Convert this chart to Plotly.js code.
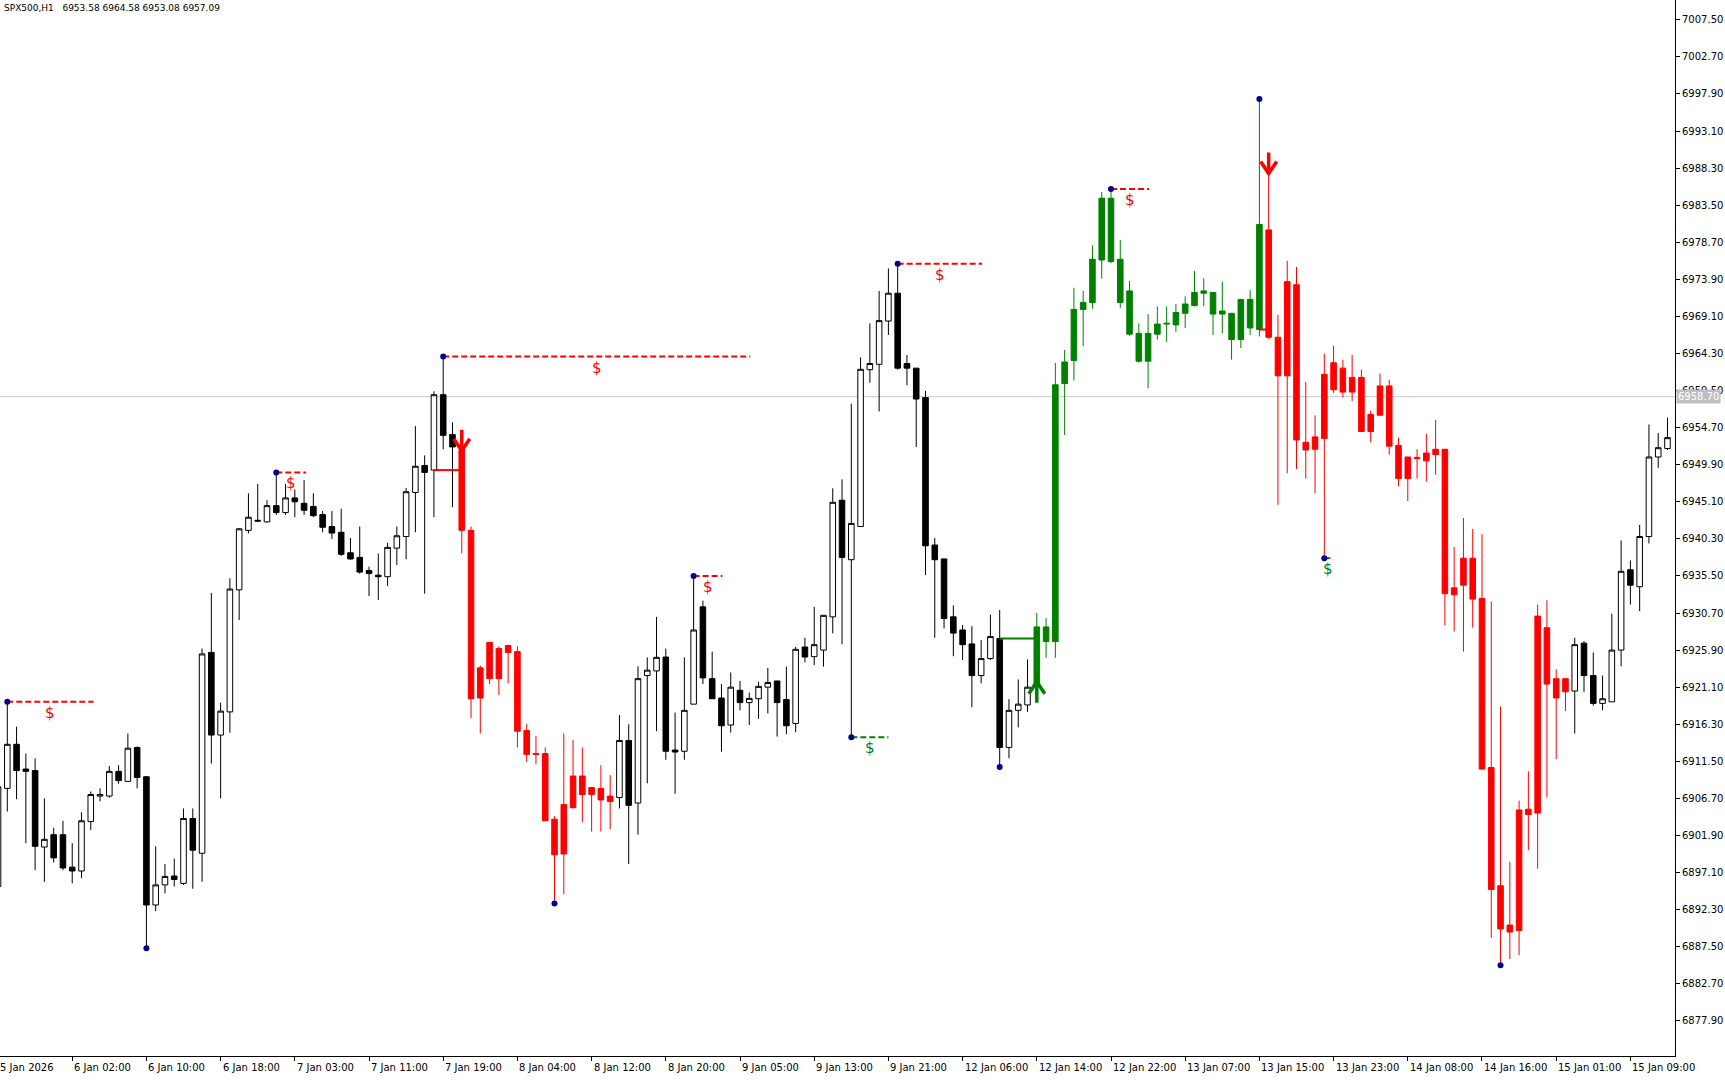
<!DOCTYPE html>
<html>
<head>
<meta charset="utf-8">
<script src="https://cdn.plot.ly/plotly-3.0.1.min.js"></script>
<style>
html,body{margin:0;padding:0;background:#ffffff;}
#chart{width:1725px;height:1080px;}
</style>
</head>
<body>
<div id="chart"></div>
<script>
// ---------------- DATA ----------------
const headerText = 'SPX500,H1\u00a0\u00a0\u00a06953.58 6964.58 6953.08 6957.09';
const firstBar = -1; // bar number of the first value below (partly off-screen)

const open = [
6895.3,
6908.0,6913.7,6910.5,6910.3,6900.4,6902.0,6902.0,6897.8,6897.3,6903.7,
6907.0,6907.0,6910.2,6908.9,6913.3,6909.5,6892.9,6895.5,6896.65,6895.7,
6904.1,6899.6,6925.6,6914.9,6917.9,6933.7,6941.4,6942.7,6942.5,6944.6,
6943.7,6945.6,6944.9,6944.5,6943.45,6941.9,6941.15,6938.5,6937.9,6936.2,
6935.6,6935.4,6939.1,6940.6,6946.3,6949.8,6949.2,6958.96,6953.8,6951.8,
6941.4,6919.7,6922.2,6926.1,6925.6,6925.7,6915.5,6912.5,6912.5,6904.0,
6899.5,6905.5,6909.6,6908.1,6908.0,6907.0,6906.8,6914.2,6906.1,6922.6,
6923.2,6925.0,6912.96,6912.8,6918.9,6931.5,6922.2,6919.7,6916.2,6920.7,
6919.1,6919.6,6921.1,6921.9,6919.5,6916.4,6926.3,6925.05,6925.9,6930.2,
6945.3,6937.6,6941.9,6962.2,6962.9,6968.5,6972.1,6963.0,6962.4,6958.6,
6939.5,6937.7,6930.2,6928.5,6926.7,6922.6,6924.8,6927.4,6913.3,6918.1,
6918.8,6921.25,6927.0,6927.0,6960.4,6963.4,6970.0,6970.9,6976.4,6984.4,
6976.5,6972.4,6966.9,6963.3,6966.8,6968.1,6968.0,6969.5,6970.5,6972.1,
6972.2,6969.4,6969.5,6966.1,6971.3,6967.4,6980.3,6966.4,6961.4,6973.2,
6952.8,6951.9,6953.3,6963.1,6962.4,6961.2,6961.2,6954.2,6956.3,6960.1,
6952.4,6948.1,6950.85,6950.4,6951.2,6951.9,6933.96,6934.3,6937.8,6932.6,
6910.7,6895.4,6889.4,6889.6,6905.3,6904.8,6928.8,6922.2,6920.5,6920.6,
6926.8,6922.6,6919.0,6919.2,6925.9,6936.3,6934.1,6940.6,6950.9,6952.0
];
const high = [
6910.0,
6919.2,6916.0,6912.5,6911.9,6906.7,6902.9,6903.8,6900.9,6904.9,6907.6,
6908.0,6910.9,6911.0,6915.1,6913.4,6909.6,6900.5,6898.2,6898.9,6905.4,
6905.4,6926.1,6933.3,6919.1,6935.2,6941.7,6946.2,6947.4,6945.3,6948.9,
6947.4,6946.7,6947.9,6946.2,6943.9,6943.9,6944.2,6940.4,6941.9,6936.7,
6938.4,6939.8,6941.9,6946.9,6954.9,6951.1,6959.4,6963.9,6955.4,6953.5,
6941.9,6923.9,6926.9,6926.4,6926.5,6926.4,6916.3,6914.8,6913.3,6904.4,
6915.1,6914.3,6913.3,6908.2,6911.0,6909.7,6917.5,6916.3,6923.8,6924.96,
6930.2,6926.1,6917.8,6924.96,6935.5,6932.3,6925.7,6921.5,6923.0,6921.9,
6920.4,6921.8,6923.6,6921.9,6923.75,6926.3,6927.5,6931.5,6930.4,6946.85,
6948.0,6957.8,6963.8,6968.2,6972.4,6975.3,6975.9,6964.1,6962.4,6959.45,
6940.4,6937.7,6931.7,6929.15,6929.0,6927.2,6930.5,6931.1,6919.55,6922.1,
6924.7,6930.7,6930.05,6963.07,6964.75,6972.8,6972.4,6978.3,6985.2,6985.6,
6979.0,6973.7,6968.2,6969.4,6970.4,6970.4,6970.7,6971.7,6975.0,6974.03,
6972.2,6973.6,6969.5,6971.3,6972.5,6997.25,6987.5,6969.3,6976.3,6975.5,
6960.6,6956.3,6964.3,6965.3,6963.5,6964.1,6962.2,6956.9,6961.7,6960.9,
6953.4,6950.9,6951.9,6953.9,6955.7,6951.9,6939.25,6943.0,6941.6,6940.9,
6932.2,6918.6,6898.5,6906.4,6910.2,6931.8,6932.35,6923.4,6922.2,6927.5,
6927.07,6925.6,6922.6,6930.6,6940.1,6937.5,6942.1,6955.1,6954.0,6956.0
];
const low = [
6893.0,
6905.0,6906.6,6900.9,6897.4,6895.9,6898.4,6897.4,6895.7,6896.4,6902.6,
6906.3,6906.8,6908.6,6908.9,6908.0,6887.3,6892.1,6894.4,6895.3,6895.5,
6895.0,6895.9,6911.2,6906.7,6915.2,6929.8,6941.0,6942.5,6942.4,6943.4,
6943.4,6943.1,6943.4,6943.1,6941.15,6940.3,6938.1,6937.6,6935.8,6932.9,
6932.4,6934.2,6936.9,6937.65,6941.15,6933.2,6943.1,6951.9,6944.4,6938.4,
6917.1,6915.1,6921.5,6920.1,6921.6,6913.3,6911.4,6911.1,6903.8,6893.1,
6894.3,6905.4,6903.6,6902.4,6902.4,6902.7,6905.4,6898.2,6902.0,6908.65,
6915.4,6911.7,6907.3,6911.7,6918.9,6921.5,6919.6,6912.75,6915.2,6918.1,
6916.2,6917.0,6917.7,6914.7,6915.0,6915.25,6924.3,6923.95,6923.76,6928.07,
6926.65,6914.6,6941.9,6960.5,6956.8,6966.7,6962.2,6960.2,6952.2,6935.6,
6927.5,6928.7,6925.1,6924.6,6918.5,6921.6,6924.6,6910.75,6911.9,6915.9,
6917.9,6919.7,6924.9,6924.9,6953.75,6960.8,6965.25,6970.1,6974.0,6976.0,
6970.2,6966.6,6963.1,6959.8,6966.1,6965.8,6967.1,6967.6,6970.4,6970.45,
6966.7,6966.9,6963.5,6965.0,6966.7,6966.5,6966.2,6944.7,6948.8,6949.35,
6948.1,6946.2,6937.8,6959.2,6958.6,6958.1,6954.2,6952.8,6956.3,6951.2,
6947.1,6945.2,6948.1,6947.7,6948.6,6929.1,6928.3,6925.7,6928.8,6910.45,
6888.65,6885.1,6885.9,6886.4,6900.0,6897.6,6906.8,6911.8,6918.0,6915.1,
6920.5,6918.7,6918.1,6919.2,6923.8,6931.8,6930.95,6939.7,6949.5,6951.8
];
const close = [
6908.2,
6913.7,6910.3,6910.2,6900.5,6901.4,6899.0,6897.7,6897.3,6903.8,6907.2,
6907.2,6910.2,6909.0,6913.2,6909.4,6892.9,6895.5,6896.6,6896.2,6904.1,
6900.0,6925.4,6914.9,6918.0,6933.8,6941.6,6943.1,6942.6,6944.6,6943.7,
6945.6,6945.1,6944.0,6943.3,6941.8,6941.05,6938.3,6937.7,6936.0,6935.8,
6935.4,6939.2,6940.7,6946.4,6949.7,6948.9,6958.96,6953.7,6952.2,6941.4,
6919.6,6923.6,6926.9,6922.2,6926.5,6915.4,6912.4,6912.4,6903.8,6899.4,
6905.9,6909.6,6907.2,6907.2,6906.5,6906.3,6914.2,6905.8,6922.2,6923.3,
6924.96,6912.8,6912.7,6918.1,6928.5,6922.3,6919.6,6916.1,6921.1,6919.1,
6919.65,6921.2,6921.7,6919.1,6916.1,6926.0,6925.0,6926.6,6930.4,6945.03,
6937.9,6942.3,6962.25,6963.0,6968.55,6972.1,6962.4,6962.4,6958.4,6939.4,
6937.6,6930.0,6928.1,6926.6,6922.6,6924.8,6927.65,6913.3,6918.1,6918.9,
6921.1,6928.9,6928.9,6960.25,6963.2,6970.0,6970.9,6976.5,6984.4,6976.2,
6970.9,6966.8,6963.3,6966.9,6968.1,6968.2,6969.6,6970.7,6972.2,6972.4,
6969.4,6969.8,6966.1,6971.3,6967.6,6981.0,6966.4,6961.4,6973.6,6953.1,
6951.8,6953.5,6961.6,6959.6,6959.3,6959.3,6954.2,6956.4,6960.1,6952.3,
6948.1,6950.9,6950.7,6951.4,6951.9,6933.2,6933.06,6937.8,6932.5,6910.5,
6894.9,6889.8,6890.3,6905.2,6904.6,6930.3,6921.5,6919.7,6922.2,6926.6,
6922.6,6919.0,6919.6,6925.9,6936.1,6934.3,6940.6,6950.9,6952.1,6953.4
];

// indicator trend zones (bar numbers, inclusive)
const sellZones = [[49, 65], [136, 168]];
const buyZones = [[111, 135]];

// swing points (navy dots)
const swingBars = [0, 15, 29, 47, 59, 74, 91, 96, 107, 119, 135, 142, 161];
const swingSide = ['high','low','high','high','low','high','low','high','low','high','high','low','low'];

// "$" levels drawn from a swing point
const levelBars = [0, 29, 47, 74, 91, 96, 119, 142];
const levelEnds = [9.3, 32.2, 80.1, 77.1, 95.0, 105.1, 123.1, 142.9];
const levelSide = ['high','high','high','high','low','high','high','low'];

// signal arrows
const signalBars = [49, 111, 136];
const signalDir = ['sell', 'buy', 'sell'];
const signalFrom = [46, 107, 135];
const signalTip = [6951.7, 6921.8, 6987.6];

const currentPrice = 6958.70;

// axis ticks
const xTickBars = [-1, 7, 15, 23, 31, 39, 47, 55, 63, 71, 79, 87, 95, 103, 111, 119, 127, 135, 143, 151, 159, 167, 175];
const xTickText = ['5 Jan 2026','6 Jan 02:00','6 Jan 10:00','6 Jan 18:00','7 Jan 03:00','7 Jan 11:00','7 Jan 19:00',
  '8 Jan 04:00','8 Jan 12:00','8 Jan 20:00','9 Jan 05:00','9 Jan 13:00','9 Jan 21:00','12 Jan 06:00','12 Jan 14:00',
  '12 Jan 22:00','13 Jan 07:00','13 Jan 15:00','13 Jan 23:00','14 Jan 08:00','14 Jan 16:00','15 Jan 01:00','15 Jan 09:00'];
const yTickVals = [7007.5,7002.7,6997.9,6993.1,6988.3,6983.5,6978.7,6973.9,6969.1,6964.3,6959.5,6954.7,6949.9,6945.1,
  6940.3,6935.5,6930.7,6925.9,6921.1,6916.3,6911.5,6906.7,6901.9,6897.1,6892.3,6887.5,6882.7,6877.9];
const yTickText = ['7007.50','7002.70','6997.90','6993.10','6988.30','6983.50','6978.70','6973.90','6969.10','6964.30',
  '6959.50','6954.70','6949.90','6945.10','6940.30','6935.50','6930.70','6925.90','6921.10','6916.30','6911.50',
  '6906.70','6901.90','6897.10','6892.30','6887.50','6882.70','6877.90'];

// ---------------- LAYOUT CONSTANTS ----------------
const W = 1725, H = 1080;
const M = {l: 0, r: 50, t: 0, b: 24};
const xRange = [-0.787, 179.81];
const yRange = [6873.35, 7010.06];
const plotW = W - M.l - M.r, plotH = H - M.t - M.b;
const pxPerBar = plotW / (xRange[1] - xRange[0]);
const pricePerPx = (yRange[1] - yRange[0]) / plotH;

const RED = '#ff0000', GREEN = '#008000', NAVY = '#00008b';
const FONT = 'DejaVu Sans, Arial, sans-serif';

// ---------------- BUILD ----------------
const bars = open.map((_, i) => firstBar + i);
function zoneOf(b) {
  for (const z of sellZones) if (b >= z[0] && b <= z[1]) return 'sell';
  for (const z of buyZones) if (b >= z[0] && b <= z[1]) return 'buy';
  return 'none';
}
const groups = {none: {x:[],o:[],h:[],l:[],c:[]}, sell: {x:[],o:[],h:[],l:[],c:[]}, buy: {x:[],o:[],h:[],l:[],c:[]}};
bars.forEach((b, i) => {
  const g = groups[zoneOf(b)];
  g.x.push(b); g.o.push(open[i]); g.h.push(high[i]); g.l.push(low[i]); g.c.push(close[i]);
});
const candleStyle = {
  none: {inc: {line:{color:'#000000', width:1}, fillcolor:'#ffffff'}, dec: {line:{color:'#000000', width:1}, fillcolor:'#000000'}},
  sell: {inc: {line:{color:RED, width:1}, fillcolor:RED}, dec: {line:{color:RED, width:1}, fillcolor:RED}},
  buy:  {inc: {line:{color:GREEN, width:1}, fillcolor:GREEN}, dec: {line:{color:GREEN, width:1}, fillcolor:GREEN}}
};
const traces = [];
['none', 'sell', 'buy'].forEach(k => {
  const g = groups[k];
  traces.push({
    type: 'candlestick', x: g.x, open: g.o, high: g.h, low: g.l, close: g.c,
    increasing: candleStyle[k].inc, decreasing: candleStyle[k].dec,
    whiskerwidth: 0, hoverinfo: 'skip', showlegend: false
  });
});

const valAt = (b, side) => { const i = b - firstBar; return side === 'high' ? high[i] : low[i]; };

// signal entry lines
signalBars.forEach((b, k) => {
  const col = signalDir[k] === 'sell' ? RED : GREEN;
  const p = open[signalFrom[k] - firstBar];
  traces.push({type:'scatter', mode:'lines', x:[signalFrom[k], b], y:[p, p],
    line:{color:col, width:2}, hoverinfo:'skip', showlegend:false});
});

// level lines
const annotations = [];
levelBars.forEach((b, k) => {
  const col = levelSide[k] === 'high' ? RED : GREEN;
  const p = valAt(b, levelSide[k]);
  traces.push({type:'scatter', mode:'lines', x:[b, levelEnds[k]], y:[p, p],
    line:{color:col, width:2, dash:'6px,3px'}, hoverinfo:'skip', showlegend:false});
  annotations.push({x:(b + levelEnds[k]) / 2, y:p, xref:'x', yref:'y', text:'$', showarrow:false,
    yshift:-11, font:{family:FONT, size:15, color:col}});
});

// arrows
signalBars.forEach((b, k) => {
  const col = signalDir[k] === 'sell' ? RED : GREEN;
  const s = signalDir[k] === 'sell' ? 1 : -1;
  const tip = signalTip[k];
  const dx = 8 / pxPerBar, armDy = 12 * pricePerPx * s, stem = 21 * pricePerPx * s;
  traces.push({type:'scatter', mode:'lines',
    x:[b, b, null, b - dx, b, b + dx],
    y:[tip, tip + stem, null, tip + armDy, tip, tip + armDy],
    line:{color:col, width:3.5}, hoverinfo:'skip', showlegend:false});
});

// swing dots
traces.push({type:'scatter', mode:'markers', x:swingBars, y:swingBars.map((b, k) => valAt(b, swingSide[k])),
  marker:{color:NAVY, size:6}, hoverinfo:'skip', showlegend:false});

// x labels (text starts just right of its tick, MT5 style)
const xSpan = xRange[1] - xRange[0];
xTickBars.forEach((b, i) => {
  annotations.push({xref:'paper', yref:'paper', x:(b - xRange[0]) / xSpan, y:0, xanchor:'left', yanchor:'top',
    yshift:-4, text:xTickText[i], showarrow:false, font:{family:FONT, size:10, color:'#000'}});
});
// header
annotations.push({xref:'paper', yref:'paper', x:0, y:1, xanchor:'left', yanchor:'top', xshift:2, yshift:-1,
  text:headerText, showarrow:false, font:{family:FONT, size:9, color:'#000'}});
// current price tag
annotations.push({xref:'paper', yref:'y', x:1, y:currentPrice, xanchor:'left', yanchor:'middle', xshift:1,
  text:currentPrice.toFixed(2), showarrow:false, bgcolor:'#c0c0c0', borderpad:1,
  font:{family:FONT, size:10, color:'#ffffff'}});

const layout = {
  width: W, height: H,
  margin: {l:M.l, r:M.r, t:M.t, b:M.b, pad:0},
  paper_bgcolor: '#ffffff', plot_bgcolor: '#ffffff',
  showlegend: false, hovermode: false, dragmode: false,
  boxgap: 0.4, boxgroupgap: 0,
  font: {family: FONT, size: 10, color: '#000'},
  xaxis: {range: xRange, type:'linear', rangeslider:{visible:false}, showgrid:false, zeroline:false,
    showline:true, linecolor:'#000', linewidth:1, mirror:true,
    ticks:'outside', ticklen:4, tickcolor:'#000', tickvals:xTickBars, showticklabels:false, fixedrange:true},
  yaxis: {range: yRange, side:'right', showgrid:false, zeroline:false,
    showline:true, linecolor:'#000', linewidth:1, mirror:true,
    ticks:'outside', ticklen:4, tickcolor:'#000', tickvals:yTickVals, ticktext:yTickText,
    tickfont:{family:FONT, size:10, color:'#000'}, fixedrange:true},
  shapes: [{type:'line', xref:'paper', x0:0, x1:1, yref:'y', y0:currentPrice, y1:currentPrice,
    line:{color:'#c8c8c8', width:1}, layer:'below'}],
  annotations: annotations
};

Plotly.newPlot('chart', traces, layout, {staticPlot:true, displayModeBar:false});
</script>
</body>
</html>
